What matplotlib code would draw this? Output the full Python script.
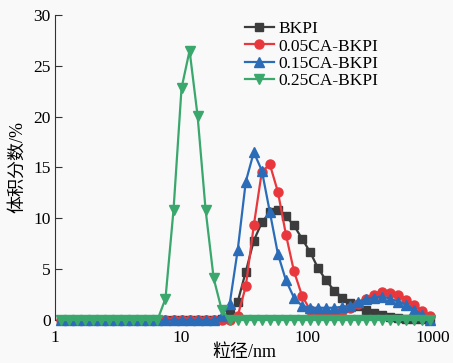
import matplotlib.pyplot as plt
import numpy as np

plt.rcParams['font.family'] = ['Liberation Serif', 'Noto Sans CJK SC']
plt.rcParams['axes.unicode_minus'] = False

# size classes (nm)
size = [1.117, 1.294, 1.499, 1.736, 2.010, 2.328, 2.696, 3.122, 3.615, 4.187,
        4.849, 5.615, 6.503, 7.531, 8.721, 10.10, 11.70, 13.54, 15.69, 18.17,
        21.04, 24.36, 28.21, 32.67, 37.84, 43.82, 50.75, 58.77, 68.06, 78.82,
        91.28, 105.7, 122.4, 141.8, 164.2, 190.1, 220.2, 255.0, 295.3, 342.0,
        396.1, 458.7, 531.2, 615.1, 712.4, 825.0, 955.4]

bkpi = [0, 0, 0, 0, 0, 0, 0, 0, 0, 0,
        0, 0, 0, 0, 0, 0, 0, 0, 0, 0,
        0.1, 0.6, 1.8, 4.75, 7.8, 9.6, 10.6, 10.8, 10.2, 9.3,
        8.0, 6.7, 5.1, 3.9, 2.9, 2.2, 1.7, 1.35, 1.0, 0.65,
        0.45, 0.3, 0.2, 0.1, 0.1, 0.05, 0]

ca005 = [0, 0, 0, 0, 0, 0, 0, 0, 0, 0,
         0, 0, 0, 0, 0, 0, 0, 0, 0, 0,
         0, 0, 0.4, 3.3, 9.3, 14.6, 15.3, 12.6, 8.4, 4.8,
         2.4, 1.0, 0.8, 0.7, 0.7, 0.9, 1.2, 1.6, 2.1, 2.5,
         2.8, 2.7, 2.5, 2.0, 1.5, 0.9, 0.4]

ca015 = [0, 0, 0, 0, 0, 0, 0, 0, 0, 0,
         0, 0, 0, 0, 0, 0, 0, 0, 0, 0,
         0.4, 1.6, 6.9, 13.6, 16.5, 14.7, 10.6, 6.5, 3.9, 2.2,
         1.4, 1.2, 1.2, 1.2, 1.2, 1.3, 1.4, 1.8, 2.1, 2.2,
         2.3, 2.1, 1.8, 1.5, 1.0, 0.5, 0]

ca025 = [0, 0, 0, 0, 0, 0, 0, 0, 0, 0,
         0, 0, 0, 2.1, 10.8, 22.8, 26.5, 20.1, 10.8, 4.1,
         1.0, 0, 0, 0, 0, 0, 0, 0, 0, 0,
         0, 0, 0, 0, 0, 0, 0, 0, 0, 0,
         0, 0, 0, 0, 0, 0, 0]

labels = ["BKPI", "0.05CA-BKPI", "0.15CA-BKPI", "0.25CA-BKPI"]
colors = ["#3c3c3c", "#e8383d", "#2b6cb8", "#3aa76d"]
markers = ["s", "o", "^", "v"]
msizes = [5.5, 6.5, 6.5, 6.5]

fig = plt.figure(figsize=(4.53, 3.63), dpi=100, facecolor="#f9f9f9")
ax = fig.add_axes([0.1214, 0.1185, 0.8344, 0.8402])
ax.set_facecolor("#f9f9f9")

for y, lab, c, m, ms in zip([bkpi, ca005, ca015, ca025], labels, colors, markers, msizes):
    ax.plot(size, y, color=c, marker=m, markersize=ms, linewidth=1.6,
            label=lab, clip_on=False)

ax.set_xscale("log")
ax.set_xlim(1, 1000)
ax.set_ylim(0, 30)
ax.set_yticks(np.arange(0, 31, 5))
ax.set_xticks([1, 10, 100, 1000])
ax.set_xticklabels(["1", "10", "100", "1000"])
ax.minorticks_off()

for s in ["top", "right", "bottom"]:
    ax.spines[s].set_visible(False)
ax.spines["left"].set_color("#333333")
ax.tick_params(axis="y", direction="in", length=5, pad=3, labelsize=12.5, color="#333333")
ax.tick_params(axis="x", length=0, pad=7, labelsize=12.5)

ax.set_xlabel("粒径/nm", fontsize=13, va="top")
ax.xaxis.set_label_coords(0.5, -0.08)
ax.set_ylabel("体积分数/%", fontsize=13, labelpad=5)

ax.legend(loc="upper left", bbox_to_anchor=(0.54, 0.942), bbox_transform=fig.transFigure,
          frameon=False, fontsize=12.5, handlelength=1.7, handletextpad=0.25,
          labelspacing=0.07, borderpad=0, borderaxespad=0)

plt.savefig("out.png", dpi=100, facecolor=fig.get_facecolor())
plt.close()
